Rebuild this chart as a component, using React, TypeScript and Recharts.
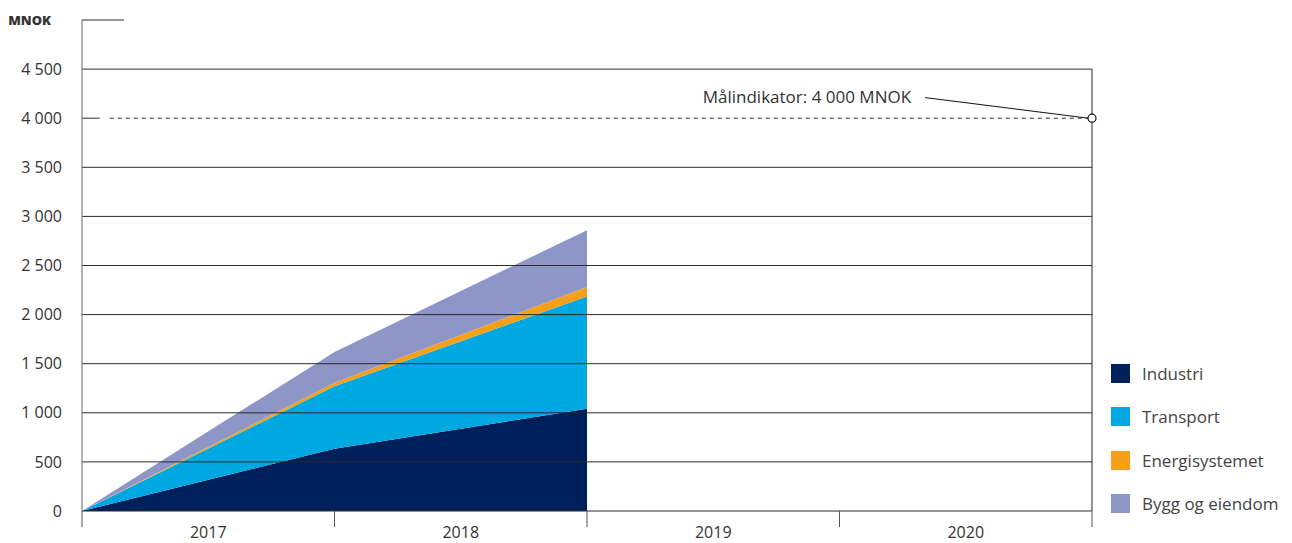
import { ComposedChart, Area, XAxis, YAxis, ReferenceLine, ReferenceDot } from "recharts";

const years = ["2017", "2018", "2019", "2020"];
const xPoints = [0, 1, 2];
const industri = [0, 635, 1040];
const transport = [0, 635, 1145];
const energisystemet = [0, 35, 95];
const byggOgEiendom = [0, 315, 580];
const yTicks = [0, 500, 1000, 1500, 2000, 2500, 3000, 3500, 4000, 4500];
const gridValues = [500, 1000, 1500, 2000, 2500, 3000, 3500, 4500];
const target = 4000;
const targetLabel = "Målindikator: 4 000 MNOK";

const series = [
  { key: "industri", name: "Industri", color: "#00205b" },
  { key: "transport", name: "Transport", color: "#00a8e1" },
  { key: "energisystemet", name: "Energisystemet", color: "#f6a01a" },
  { key: "bygg", name: "Bygg og eiendom", color: "#8e96c8" },
];

const data = xPoints.map((x, i) => ({
  x,
  industri: industri[i],
  transport: transport[i],
  energisystemet: energisystemet[i],
  bygg: byggOgEiendom[i],
}));

const W = 1284;
const H = 535;
const margin = { top: 12, right: 200, left: 0, bottom: 2 };
const yAxisW = 74;
const halfBand = (W - margin.right - margin.left - yAxisW) / years.length / 2;
const font = "'Open Sans', Lato, sans-serif";
const textColor = "#333";
const gridColor = "#2b2b2b";

const fmt = (v: number) => (v >= 1000 ? `${Math.floor(v / 1000)} ${String(v % 1000).padStart(3, "0")}` : String(v));

function YearTick(props: any) {
  const { x, y, index } = props;
  if (index >= years.length) return null;
  return (
    <text x={x + halfBand} y={y} dy="0.71em" textAnchor="middle" fill={textColor} fontSize={16} fontFamily={font}>
      {years[index]}
    </text>
  );
}

function LegendBox() {
  return (
    <div style={{ position: "absolute", left: 1103, top: 344, fontFamily: font, fontSize: 17, color: "#444" }}>
      {series.map((s) => (
        <div key={s.key} style={{ display: "flex", alignItems: "center", height: 43.3 }}>
          <span style={{ width: 19, height: 19, background: s.color, display: "inline-block", marginRight: 12 }} />
          <span>{s.name}</span>
        </div>
      ))}
    </div>
  );
}

export default function App() {
  return (
    <div style={{ width: W, height: H, position: "relative" }}>
      <ComposedChart width={W} height={H} data={data} margin={margin}>
        <XAxis
          dataKey="x"
          type="number"
          domain={[0, 4]}
          ticks={[0, 1, 2, 3, 4]}
          interval={0}
          height={30}
          tick={<YearTick />}
          tickSize={16}
          tickMargin={0}
          axisLine={{ stroke: gridColor }}
          tickLine={{ stroke: "#555" }}
        />
        <YAxis
          type="number"
          domain={[0, 5000]}
          ticks={yTicks}
          width={yAxisW}
          tickFormatter={fmt}
          tickLine={false}
          tickSize={18}
          tickMargin={2}
          axisLine={{ stroke: "#666" }}
          tick={{ fill: textColor, fontSize: 16, fontFamily: font }}
        />
        {gridValues.map((v) => (
          <ReferenceLine key={v} y={v} stroke={gridColor} strokeWidth={1} ifOverflow="visible" />
        ))}
        {series.map((s) => (
          <Area
            key={s.key}
            type="linear"
            dataKey={s.key}
            name={s.name}
            stackId="a"
            fill={s.color}
            fillOpacity={1}
            stroke="none"
            isAnimationActive={false}
          />
        ))}
        <ReferenceLine
          segment={[{ x: 4, y: 0 }, { x: 4, y: 4500 }]}
          stroke={gridColor}
          ifOverflow="visible"
        />
        <ReferenceLine
          segment={[{ x: 0, y: 5000 }, { x: 0.166, y: 5000 }]}
          stroke={gridColor}
          ifOverflow="visible"
          label={(p: any) => (
            <text x={p.viewBox.x - 31} y={p.viewBox.y + 5} textAnchor="end" fill={textColor} fontSize={13} fontWeight={800} fontFamily={font}>
              MNOK
            </text>
          )}
        />
        <ReferenceLine segment={[{ x: 0, y: target }, { x: 0.07, y: target }]} stroke={gridColor} ifOverflow="visible" />
        <ReferenceLine
          segment={[{ x: 0.11, y: target }, { x: 4, y: target }]}
          stroke={gridColor}
          strokeDasharray="4 4"
          ifOverflow="visible"
        />
        <ReferenceLine
          segment={[{ x: 3.339, y: 4210 }, { x: 3.985, y: target }]}
          stroke="#111"
          ifOverflow="visible"
          label={(p: any) => (
            <text x={p.viewBox.x - 14} y={p.viewBox.y + 5} textAnchor="end" fill={textColor} fontSize={17} fontFamily={font}>
              {targetLabel}
            </text>
          )}
        />
        <ReferenceDot x={4} y={target} r={4} fill="#fff" stroke="#111" strokeWidth={1.2} ifOverflow="visible" />
      </ComposedChart>
      <LegendBox />
    </div>
  );
}
